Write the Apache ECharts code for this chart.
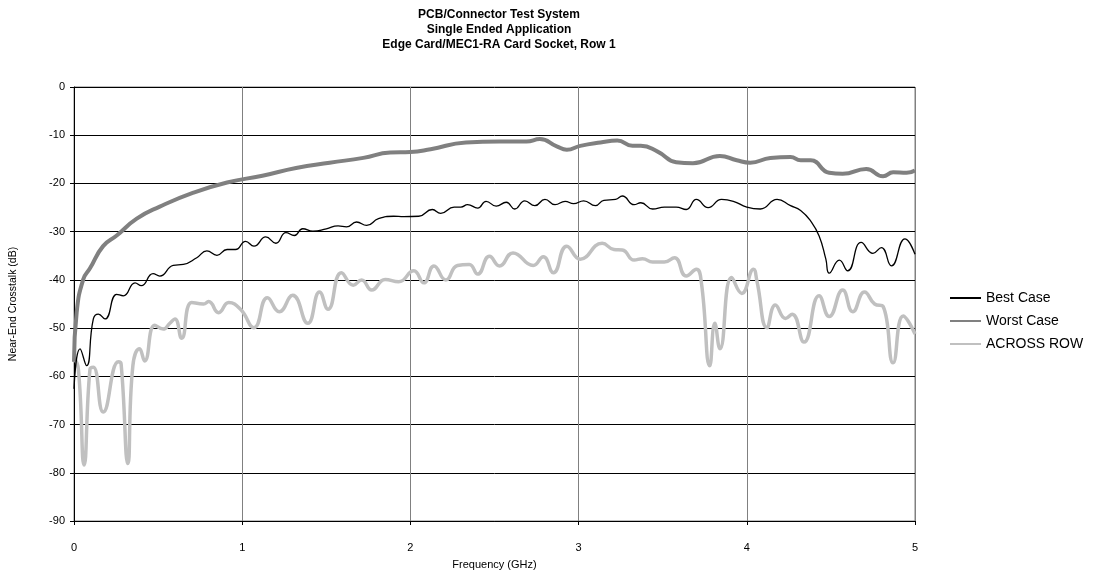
<!DOCTYPE html>
<html>
<head>
<meta charset="utf-8">
<script src="https://cdn.jsdelivr.net/npm/echarts@6/dist/echarts.min.js"></script>
<style>
  html, body { margin: 0; padding: 0; background: #ffffff; }
  #chart { width: 1114px; height: 575px; }
</style>
</head>
<body>
<div id="chart"></div>
<script>
// Near-end crosstalk vs frequency, three measured paths
const titleLines = ['PCB/Connector Test System', 'Single Ended Application', 'Edge Card/MEC1-RA Card Socket, Row 1'];
const seriesNames = ['Best Case', 'Worst Case', 'ACROSS ROW'];
const xTicks = [0, 1, 2, 3, 4, 5];
const yTicks = [0, -10, -20, -30, -40, -50, -60, -70, -80, -90];

// Frequency (GHz) and crosstalk (dB) samples per path
const bestFreq = [0, 0.036, 0.075, 0.115, 0.145, 0.184, 0.254, 0.293, 0.363, 0.40, 0.47, 0.51, 0.59, 0.65, 0.73, 0.79, 0.85, 0.91, 0.96, 1.02, 1.07, 1.14, 1.2, 1.26, 1.31, 1.36, 1.42, 1.5, 1.57, 1.62, 1.68, 1.74, 1.81, 1.90, 1.96, 2.05, 2.13, 2.18, 2.26, 2.30, 2.34, 2.40, 2.45, 2.51, 2.57, 2.62, 2.68, 2.74, 2.80, 2.86, 2.92, 2.97, 3.03, 3.10, 3.15, 3.22, 3.26, 3.33, 3.37, 3.44, 3.51, 3.58, 3.64, 3.70, 3.77, 3.85, 3.92, 4.0, 4.08, 4.18, 4.26, 4.32, 4.38, 4.43, 4.47, 4.49, 4.55, 4.60, 4.68, 4.75, 4.80, 4.86, 4.94, 5.0];
const bestDb = [-62.6, -54.3, -57.8, -48.1, -47.1, -48.1, -43, -43.3, -40.6, -41.2, -38.7, -39.2, -37, -36.8, -35.4, -34, -34.9, -33.7, -33.7, -32, -33, -31.1, -32.4, -30.2, -30.8, -29.4, -29.9, -29.4, -28.8, -29, -28, -28.7, -27.3, -26.8, -26.9, -26.8, -25.4, -26.2, -24.9, -24.9, -24.4, -25.1, -23.7, -24.7, -23.9, -25.3, -23.6, -24.6, -23.3, -24.4, -23.7, -24.2, -23.6, -24.6, -23.5, -23.3, -22.6, -24.4, -24, -25.3, -24.9, -24.9, -25.4, -23.3, -25, -23.3, -23.7, -24.9, -25.3, -23.3, -24.6, -25.6, -27.8, -30.9, -35.7, -38.6, -35.9, -38.1, -32.2, -34.5, -33.3, -37.1, -31.5, -34.7];

const worstFreq = [0, 0.016, 0.055, 0.095, 0.173, 0.254, 0.373, 0.51, 0.71, 0.91, 1.12, 1.32, 1.52, 1.72, 1.88, 2.0, 2.12, 2.33, 2.53, 2.69, 2.77, 2.87, 2.93, 3.01, 3.13, 3.23, 3.32, 3.37, 3.47, 3.58, 3.68, 3.84, 3.94, 4.02, 4.14, 4.26, 4.32, 4.38, 4.49, 4.57, 4.71, 4.81, 4.87, 4.95, 5.0];
const worstDb = [-57, -46.7, -39.9, -37.6, -33, -30.8, -27.3, -24.8, -21.9, -19.8, -18.4, -16.8, -15.7, -14.7, -13.6, -13.5, -12.9, -11.5, -11.3, -11.3, -10.8, -12.3, -13.0, -12.2, -11.5, -11.1, -12.2, -12.2, -13.4, -15.6, -15.8, -14.3, -15.2, -15.7, -14.7, -14.5, -15.2, -15.2, -17.8, -18, -17, -18.5, -17.7, -17.8, -17.3];

const acrossFreq = [0, 0.026, 0.06, 0.095, 0.115, 0.174, 0.264, 0.28, 0.32, 0.35, 0.39, 0.42, 0.48, 0.53, 0.57, 0.60, 0.64, 0.70, 0.77, 0.80, 0.86, 0.92, 0.99, 1.07, 1.15, 1.22, 1.30, 1.39, 1.46, 1.51, 1.59, 1.66, 1.71, 1.77, 1.85, 1.93, 2.02, 2.08, 2.14, 2.21, 2.28, 2.35, 2.40, 2.47, 2.53, 2.61, 2.73, 2.79, 2.85, 2.93, 3.01, 3.14, 3.21, 3.26, 3.33, 3.38, 3.44, 3.51, 3.57, 3.64, 3.70, 3.73, 3.78, 3.81, 3.84, 3.91, 3.97, 4.04, 4.06, 4.12, 4.17, 4.23, 4.27, 4.34, 4.43, 4.49, 4.57, 4.63, 4.70, 4.76, 4.81, 4.87, 4.93, 5.0];
const acrossDb = [-56.1, -58.5, -78.4, -58.5, -58.1, -67.4, -57, -57.4, -78.1, -57.8, -54.3, -56.8, -49.4, -50.2, -49, -48.1, -52.1, -44.7, -45, -44.5, -46.8, -44.7, -46.1, -49.9, -43.7, -46.6, -43.2, -49, -42.5, -46.1, -38.5, -41.1, -40, -42.1, -39.9, -40.4, -38.1, -40.6, -37.1, -40, -37, -36.8, -38.8, -35.1, -37.1, -34.4, -37, -35.2, -38.5, -33, -35.7, -32.4, -33.7, -33.8, -35.9, -35.6, -36.3, -36.3, -35.4, -39.2, -37.8, -40.6, -57.8, -49, -54.3, -39.5, -42.8, -37.8, -40.2, -49.9, -45.2, -48, -47.1, -52.9, -43.3, -47.6, -42.1, -46.6, -42.5, -45, -45.5, -57.2, -47.5, -51.2];

const zip = (xs, ys) => xs.map((x, i) => [x, ys[i]]);
const FONT = '"Liberation Sans", Arial, sans-serif';

const chart = echarts.init(document.getElementById('chart'), null, { renderer: 'canvas' });

chart.setOption({
  backgroundColor: '#ffffff',
  animation: false,
  title: {
    text: titleLines.join('\n'),
    left: 494,
    textAlign: 'center',
    top: 2,
    textStyle: { fontFamily: FONT, fontSize: 12, fontWeight: 'bold', color: '#000', lineHeight: 15 }
  },
  legend: {
    orient: 'vertical',
    left: 944,
    top: 286,
    itemWidth: 31,
    itemHeight: 10,
    itemGap: 9,
    itemStyle: { opacity: 0 },
    textStyle: { fontFamily: FONT, fontSize: 14, color: '#000' },
    data: seriesNames
  },
  grid: { left: 74, right: 199, top: 87, bottom: 52, show: true, borderColor: '#808080', borderWidth: 1 },
  xAxis: {
    type: 'value',
    min: xTicks[0],
    max: xTicks[xTicks.length - 1],
    interval: 1,
    name: 'Frequency (GHz)',
    nameLocation: 'middle',
    nameGap: 38,
    nameTextStyle: { fontFamily: FONT, fontSize: 11, color: '#000' },
    axisLine: { onZero: false, lineStyle: { color: '#000', width: 1 } },
    axisTick: { show: true, length: 4, lineStyle: { color: '#000' } },
    axisLabel: { fontFamily: FONT, fontSize: 11, color: '#000', margin: 21 },
    splitLine: { show: true, lineStyle: { color: '#808080', width: 1 } }
  },
  yAxis: {
    type: 'value',
    min: yTicks[yTicks.length - 1],
    max: yTicks[0],
    interval: 10,
    name: 'Near-End Crosstalk (dB)',
    nameLocation: 'middle',
    nameGap: 55,
    nameRotate: 90,
    nameTextStyle: { fontFamily: FONT, fontSize: 10.5, color: '#000' },
    axisLine: { show: true, onZero: false, lineStyle: { color: '#000', width: 1 } },
    axisTick: { show: true, length: 4, lineStyle: { color: '#000' } },
    axisLabel: { fontFamily: FONT, fontSize: 11, color: '#000', margin: 9 },
    splitLine: { show: true, lineStyle: { color: '#000', width: 1 } }
  },
  series: [
    {
      name: seriesNames[2], type: 'line', data: zip(acrossFreq, acrossDb),
      showSymbol: false, symbol: 'none', smooth: 0.5, z: 2,
      lineStyle: { color: '#c0c0c0', width: 3.5 }, itemStyle: { color: '#c0c0c0' }
    },
    {
      name: seriesNames[1], type: 'line', data: zip(worstFreq, worstDb),
      showSymbol: false, symbol: 'none', smooth: 0.5, z: 3,
      lineStyle: { color: '#808080', width: 4 }, itemStyle: { color: '#808080' }
    },
    {
      name: seriesNames[0], type: 'line', data: zip(bestFreq, bestDb),
      showSymbol: false, symbol: 'none', smooth: 0.5, z: 4,
      lineStyle: { color: '#000000', width: 1.3 }, itemStyle: { color: '#000000' }
    }
  ]
});
</script>
</body>
</html>
